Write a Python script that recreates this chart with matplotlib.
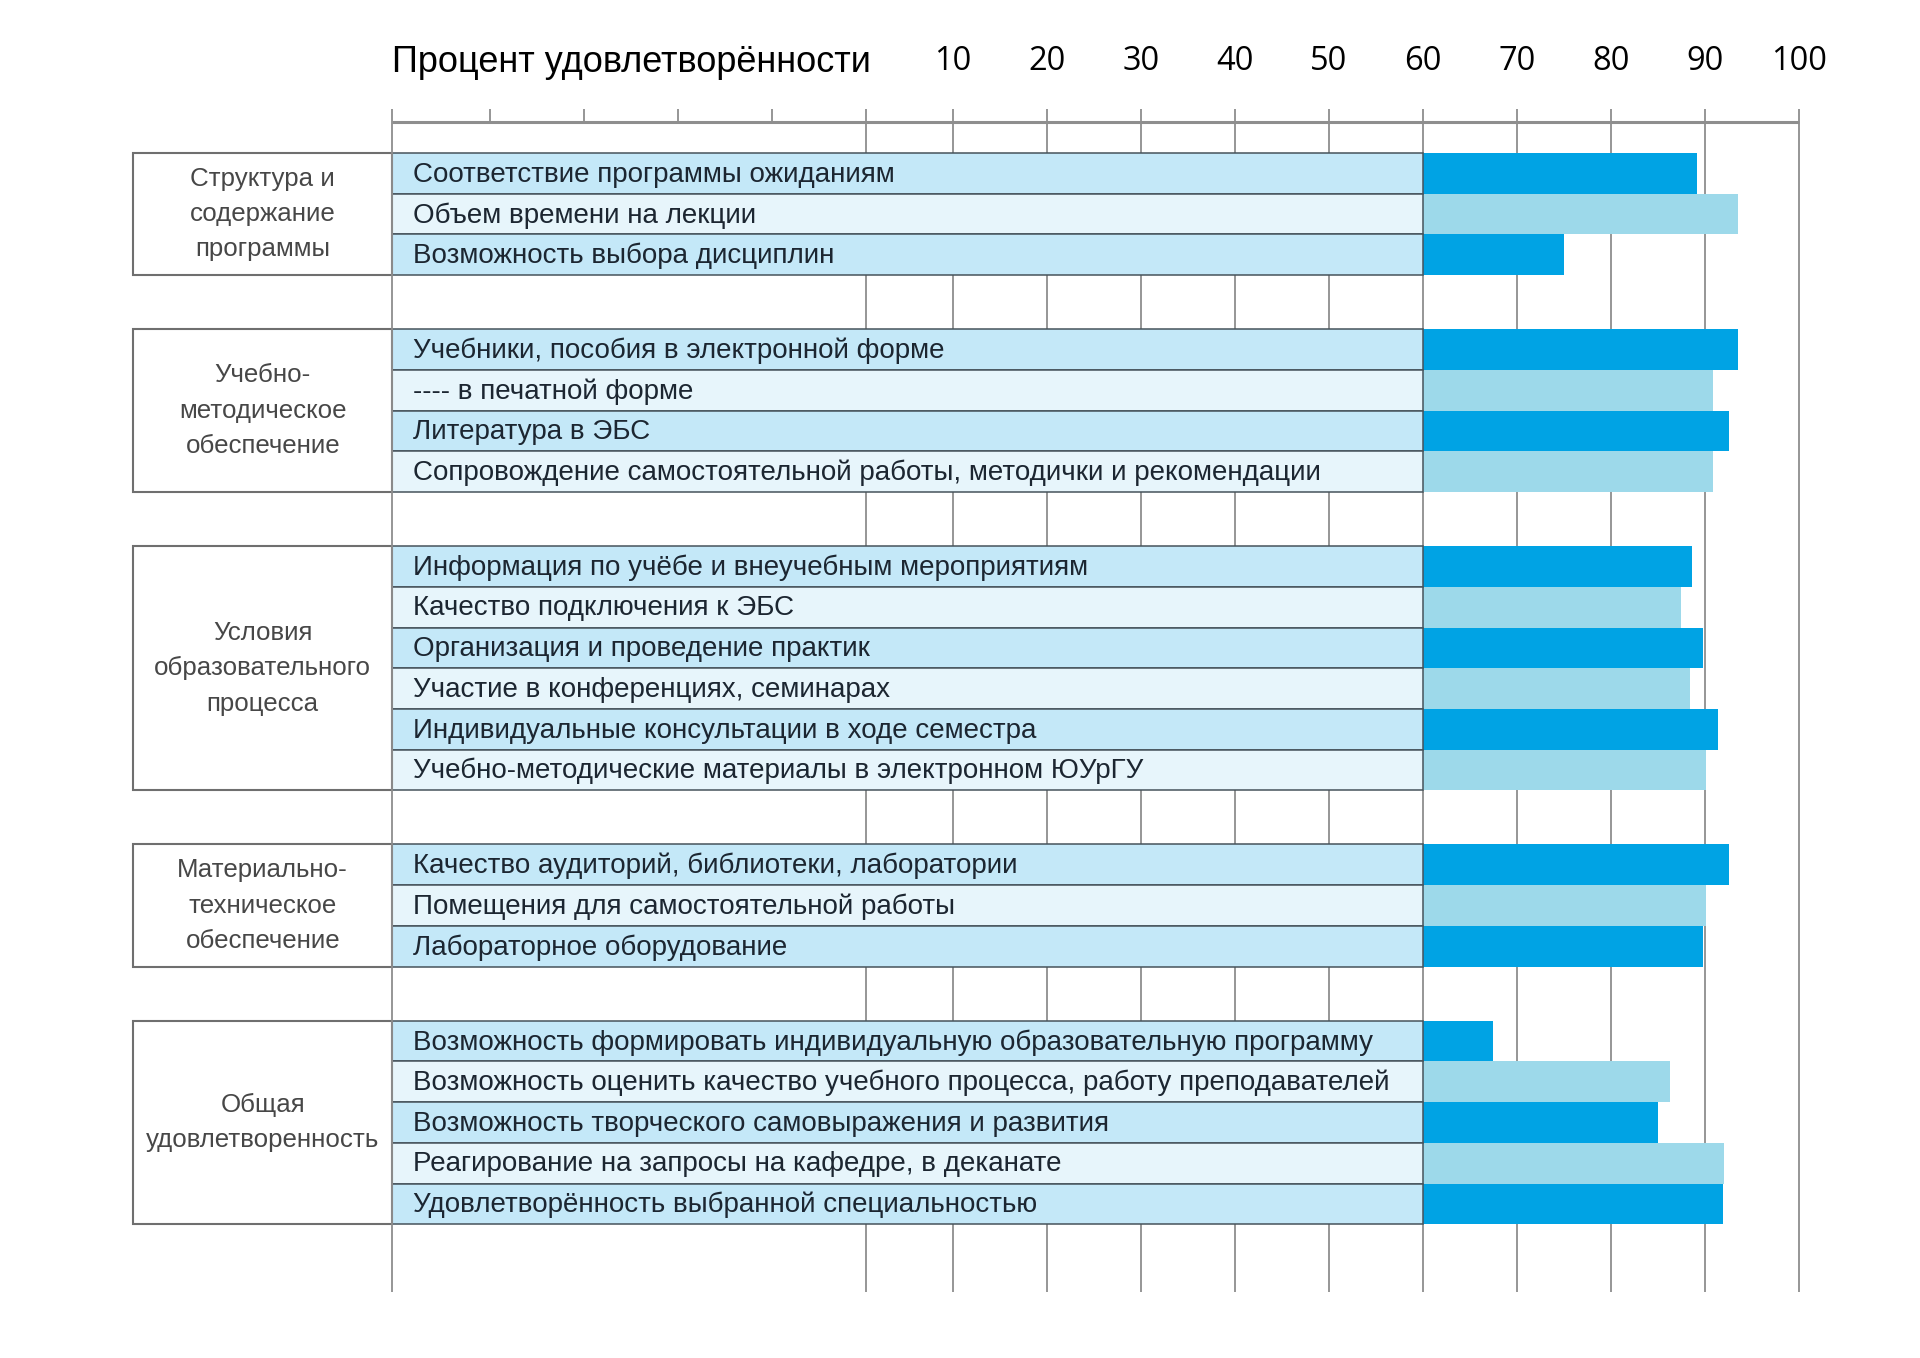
import matplotlib
matplotlib.use("Agg")
import matplotlib.pyplot as plt

# data
groups = [
    "Структура и\nсодержание\nпрограммы",
    "Учебно-\nметодическое\nобеспечение",
    "Условия\nобразовательного\nпроцесса",
    "Материально-\nтехническое\nобеспечение",
    "Общая\nудовлетворенность",
]
group_sizes = [3, 4, 6, 3, 5]

items = [
    "Соответствие программы ожиданиям",
    "Объем времени на лекции",
    "Возможность выбора дисциплин",
    "Учебники, пособия в электронной форме",
    "---- в печатной форме",
    "Литература в ЭБС",
    "Сопровождение самостоятельной работы, методички и рекомендации",
    "Информация по учёбе и внеучебным мероприятиям",
    "Качество подключения к ЭБС",
    "Организация и проведение практик",
    "Участие в конференциях, семинарах",
    "Индивидуальные консультации в ходе семестра",
    "Учебно-методические материалы в электронном ЮУрГУ",
    "Качество аудиторий, библиотеки, лаборатории",
    "Помещения для самостоятельной работы",
    "Лабораторное оборудование",
    "Возможность формировать индивидуальную образовательную программу",
    "Возможность оценить качество учебного процесса, работу преподавателей",
    "Возможность творческого самовыражения и развития",
    "Реагирование на запросы на кафедре, в деканате",
    "Удовлетворённость выбранной специальностью",
]
values = [89.2, 93.5, 75.0,
          93.5, 90.9, 92.6, 90.9,
          88.7, 87.5, 89.8, 88.4, 91.4, 90.1,
          92.6, 90.1, 89.8,
          67.5, 86.3, 85.0, 92.1, 91.9]

tick_values = [10, 20, 30, 40, 50, 60, 70, 80, 90, 100]
axis_title = "Процент удовлетворённости"

# layout (pixels of the 1920x1358 picture)
W, H = 1920, 1358
PX0, PXU = 858.7, 9.4        # pixel of 0 %, pixels per 1 %
TOP, ROW = 153, 40.7         # first row top, row height
GAP = 1.33                   # gap between groups, in rows
BOX_L, LBL_L, LBL_R, GRP_L = -49.6, -49.6, 60, -77.2
SHIFT = 0.8                  # left part of the scale is drawn a bit off

DARK_BAR, LIGHT_BAR = "#00a3e4", "#9dd9ea"
DARK_BOX, LIGHT_BOX = "#c4e8f8", "#e7f5fb"
GRID = "#8e8e8e"
FONT = ["Liberation Sans", "DejaVu Sans"]

fig = plt.figure(figsize=(W / 100, H / 100), dpi=100)
ax = fig.add_axes([0, 0, 1, 1])
ax.set_xlim(-PX0 / PXU, (W - PX0) / PXU)
ax.set_ylim((H - TOP) / ROW, -TOP / ROW)
ax.axis("off")

# row positions
ys, bar_col, box_col, grp_mid = [], [], [], []
y = 0.0
for n in group_sizes:
    grp_mid.append(y + n / 2)
    for k in range(n):
        ys.append(y + k + 0.5)
        bar_col.append(DARK_BAR if k % 2 == 0 else LIGHT_BAR)
        box_col.append(DARK_BOX if k % 2 == 0 else LIGHT_BOX)
    y += n + GAP
last = y - GAP

grid_top, axis_y, grid_bot = -1.08, -0.75, last + 1.66

# grid and top axis
ax.vlines([SHIFT] + tick_values, grid_top, grid_bot, color=GRID, lw=1.3, zorder=1)
ax.vlines([BOX_L], grid_top, grid_bot, color=GRID, lw=1.3, zorder=5)
ax.vlines([t + SHIFT for t in (-40, -30, -20, -10)], grid_top, axis_y,
          color=GRID, lw=1.3, zorder=1)
ax.hlines(axis_y, BOX_L, 100, color=GRID, lw=2.2, zorder=1)

# bars
ax.barh(ys, values, left=0, height=1.0, color=bar_col, edgecolor="none", zorder=2)

# label boxes
ax.barh(ys, LBL_R - LBL_L, left=LBL_L, height=1.0, color=box_col,
        edgecolor="#46535b", lw=1.1, zorder=3)
for yy, txt in zip(ys, items):
    ax.text(-47.4, yy + 0.03, txt, ha="left", va="center", fontsize=20,
            family=FONT, color="#1c2631", zorder=4)

# group boxes
ax.barh(grp_mid, -GRP_L + BOX_L, left=GRP_L, height=group_sizes,
        color="white", edgecolor="#6f6f6f", lw=1.5, zorder=3, clip_on=False)
for yy, txt in zip(grp_mid, groups):
    ax.text((GRP_L + BOX_L) / 2, yy, txt, ha="center", va="center",
            fontsize=18.6, linespacing=1.6, family=FONT,
            color="#474747", zorder=4)

# axis labels on top
label_y = (62 - TOP) / ROW
ax.text(BOX_L, label_y, axis_title, ha="left", va="center", fontsize=26,
        family=FONT, color="black")
for t in tick_values:
    ax.text(t, label_y, str(t), ha="center", va="center", fontsize=23.5,
            family=["Open Sans", "DejaVu Sans"], color="black")

fig.savefig("out.png", dpi=100, facecolor="white")
